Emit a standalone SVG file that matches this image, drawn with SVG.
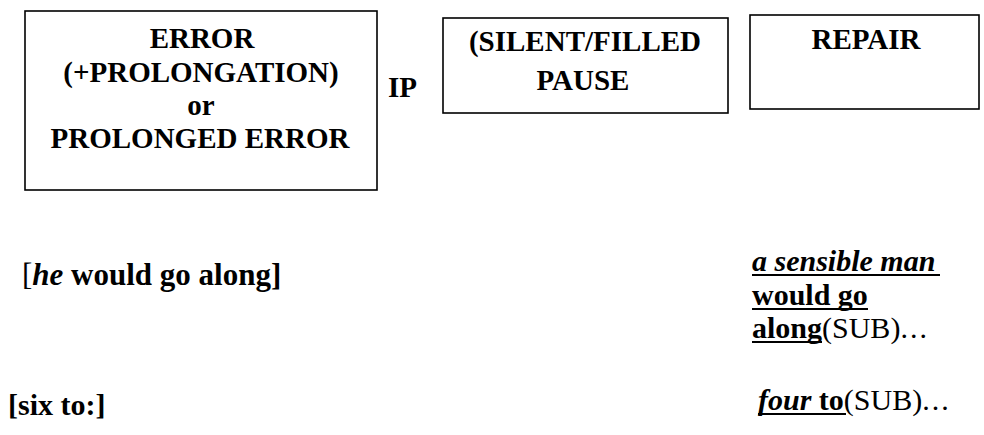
<svg xmlns="http://www.w3.org/2000/svg" width="984" height="435" viewBox="0 0 984 435">
<style>
.box{fill:none;stroke:#000;stroke-width:1.6}
.t{font-family:"Liberation Serif","Times New Roman",serif;font-weight:bold;font-size:29px;fill:#000}
.c{text-anchor:middle}
.l{font-family:"Liberation Serif","Times New Roman",serif;font-weight:bold;font-size:30px;fill:#000}
.n{font-weight:normal}
.i{font-style:italic}
.d{letter-spacing:2px}
.u{stroke:#000;stroke-width:2}
</style>
<rect width="984" height="435" fill="#fff"/>
<g id="error">
<rect class="box" x="25" y="11" width="352" height="179"/>
<text class="t c" x="202" y="48">ERROR</text>
<text class="t c" x="201" y="82">(+PROLONGATION)</text>
<text class="t c" x="201" y="115">or</text>
<text class="t c" x="200" y="148">PROLONGED ERROR</text>
</g>
<g id="ip">
<text class="t" x="388" y="97">IP</text>
</g>
<g id="pause">
<rect class="box" x="443" y="18" width="285" height="95"/>
<text class="t c" x="585" y="51">(SILENT/FILLED</text>
<text class="t c" x="583" y="90">PAUSE</text>
</g>
<g id="repair">
<rect class="box" x="750" y="15" width="229" height="94"/>
<text class="t c" x="866" y="49">REPAIR</text>
</g>
<g id="connectors"></g>
<g id="example1">
<text class="l" x="22" y="285" style="font-size:31px"><tspan class="n">[</tspan><tspan class="i">he</tspan> would go along]</text>
<text class="l" x="752" y="271"><tspan class="i">a sensible man</tspan></text>
<line class="u" x1="752" y1="275" x2="940" y2="275"/>
<text class="l" x="752" y="305">would go</text>
<line class="u" x1="752" y1="309" x2="868" y2="309"/>
<text class="l" x="752" y="338">along<tspan class="n">(SUB)</tspan><tspan class="n d">...</tspan></text>
<line class="u" x1="752" y1="342" x2="822" y2="342"/>
</g>
<g id="example2">
<text class="l" x="8" y="415">[six to:]</text>
<text class="l" x="758" y="410"><tspan class="i">four</tspan> to<tspan class="n">(SUB)</tspan><tspan class="n d">...</tspan></text>
<line class="u" x1="758" y1="414" x2="846" y2="414"/>
</g>
</svg>
